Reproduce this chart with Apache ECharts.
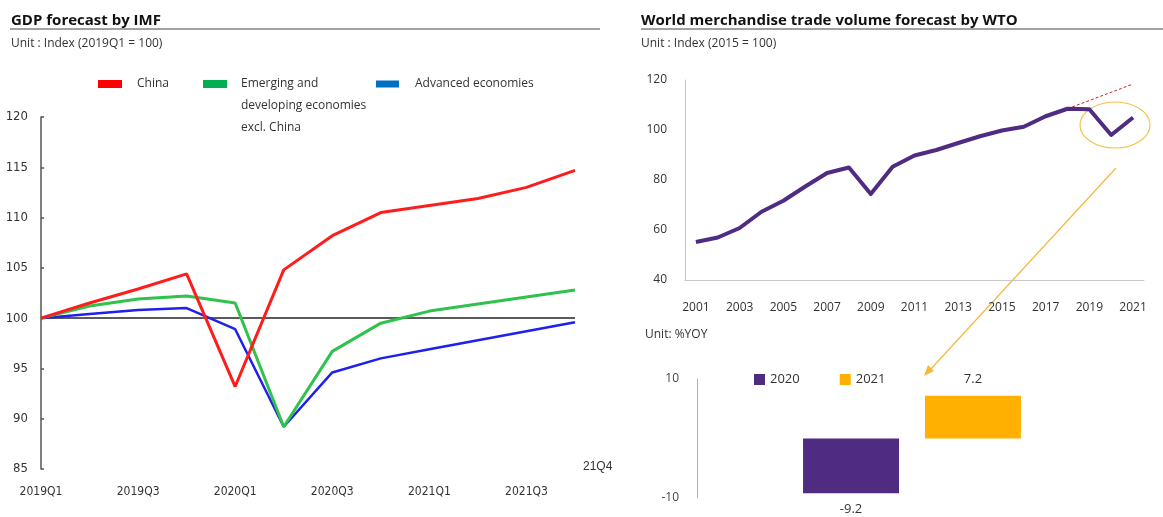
<!DOCTYPE html>
<html><head><meta charset="utf-8">
<script src="https://cdn.jsdelivr.net/npm/echarts@6/dist/echarts.min.js"></script>
<style>html,body{margin:0;padding:0;background:#fff}#c{width:1163px;height:517px}</style>
</head><body><div id="c"></div>
<script>
// ---- data ----
const quarters = ['2019Q1','2019Q2','2019Q3','2019Q4','2020Q1','2020Q2','2020Q3','2020Q4','2021Q1','2021Q2','2021Q3','2021Q4'];
const china    = [100, 101.5, 102.9, 104.4, 93.2, 104.8, 108.2, 110.5, 111.2, 111.9, 113.0, 114.7];
const emerging = [100, 101.2, 101.9, 102.2, 101.5, 89.2, 96.7, 99.5, 100.7, 101.4, 102.1, 102.8];
const advanced = [100, 100.4, 100.8, 101.0, 98.9, 89.2, 94.6, 96.0, 96.9, 97.8, 98.7, 99.6];
const gdpYTicks = [85, 120, 5];          // min, max, step
const lastQuarterLabel = '21Q4';
const emergingLines = ['Emerging and', 'developing economies', 'excl. China'];

const years = ['2001','2002','2003','2004','2005','2006','2007','2008','2009','2010','2011','2012','2013','2014','2015','2016','2017','2018','2019','2020','2021'];
const tradeVolume = [55.2, 57.0, 60.8, 67.3, 71.7, 77.4, 82.8, 85.0, 74.4, 85.3, 89.8, 92.0, 94.8, 97.5, 99.8, 101.3, 105.5, 108.5, 108.3, 98.0, 105.0];
const tradeTrend  = [null,null,null,null,null,null,null,null,null,null,null,null,null,null,null,null,null, 108.5, 111.8, 115.1, 118.4];
const tradeYTicks = [40, 120, 20];

const growthYears = ['2020', '2021'];
const growthYoY = [-9.2, 7.2];
const growthYTicks = [-10, 10, 20];

// ---- styles ----
const F = '"Open Sans", "Noto Sans", sans-serif';
const NARROW = '"Liberation Sans Narrow", "DejaVu Sans Condensed", sans-serif';
const PURPLE = '#4f2c82', ORANGE = '#ffb000';

const chart = echarts.init(document.getElementById('c'), null, {renderer: 'canvas'});
const emergingName = emergingLines.join(' ');

chart.setOption({
  animation: false,
  backgroundColor: '#fff',
  title: [
    {left: 11, top: 13, padding: 0, itemGap: 10, text: 'GDP forecast by IMF', subtext: 'Unit : Index (2019Q1 = 100)',
     textStyle: {fontSize: 15, fontWeight: 'bold', color: '#111', fontFamily: F},
     subtextStyle: {fontSize: 12, color: '#333', fontFamily: F}},
    {left: 641, top: 13, padding: 0, itemGap: 10, text: 'World merchandise trade volume forecast by WTO', subtext: 'Unit : Index (2015 = 100)',
     textStyle: {fontSize: 15, fontWeight: 'bold', color: '#111', fontFamily: F},
     subtextStyle: {fontSize: 12, color: '#333', fontFamily: F}},
    {left: 645, top: 329, padding: 0, text: 'Unit: %YOY',
     textStyle: {fontSize: 12, fontWeight: 'normal', color: '#333', fontFamily: F}}
  ],
  legend: [
    {left: 98, top: 78, padding: 0, selectedMode: false, icon: 'rect', itemWidth: 24, itemHeight: 8,
     data: [{name: 'China', itemStyle: {color: '#ff0000'}}],
     textStyle: {fontSize: 12, color: '#333', fontFamily: F, padding: [0, 0, 0, 10]}},
    {left: 203, top: 29, padding: 0, selectedMode: false, icon: 'rect', itemWidth: 24, itemHeight: 8,
     data: [{name: emergingName, itemStyle: {color: '#00b050'}}],
     formatter: () => '\n\n' + emergingLines.join('\n'),
     textStyle: {fontSize: 12, lineHeight: 22, color: '#333', fontFamily: F, padding: [0, 0, 0, 9]}},
    {left: 376, top: 78, padding: 0, selectedMode: false, icon: 'rect', itemWidth: 23, itemHeight: 7,
     data: [{name: 'Advanced economies', itemStyle: {color: '#0070c0'}}],
     textStyle: {fontSize: 12, color: '#333', fontFamily: F, padding: [0, 0, 0, 11]}},
    {left: 754, top: 373, padding: 0, selectedMode: false, icon: 'rect', itemWidth: 11, itemHeight: 11, itemGap: 40,
     data: growthYears,
     textStyle: {fontSize: 13, color: '#333', fontFamily: F}}
  ],
  grid: [
    {left: 41, top: 117, width: 534, height: 352},
    {left: 685, top: 80, width: 459, height: 200},
    {left: 697, top: 379, width: 430, height: 119}
  ],
  xAxis: [
    {gridIndex: 0, type: 'category', data: quarters, boundaryGap: false,
     axisLine: {show: false}, axisTick: {show: false},
     axisLabel: {interval: 1, margin: 17, fontSize: 12, color: '#333', fontFamily: NARROW}},
    {gridIndex: 1, type: 'category', data: years, boundaryGap: true,
     axisLine: {show: true, lineStyle: {color: '#c8c8c8', width: 1}}, axisTick: {show: false},
     axisLabel: {interval: 1, margin: 22, fontSize: 12, color: '#333', fontFamily: F}},
    {gridIndex: 2, type: 'category', data: [''], show: false}
  ],
  yAxis: [
    {gridIndex: 0, type: 'value', min: gdpYTicks[0], max: gdpYTicks[1], interval: gdpYTicks[2],
     axisLine: {show: true, lineStyle: {color: '#555', width: 1.5}},
     axisTick: {show: true, inside: true, length: 3, lineStyle: {color: '#555', width: 1.5}},
     splitLine: {show: false},
     axisLabel: {margin: 13, fontSize: 13, color: '#333', fontFamily: NARROW}},
    {gridIndex: 1, type: 'value', min: tradeYTicks[0], max: tradeYTicks[1], interval: tradeYTicks[2],
     axisLine: {show: true, lineStyle: {color: '#c8c8c8', width: 1}}, axisTick: {show: false},
     splitLine: {show: false},
     axisLabel: {margin: 18, fontSize: 12, color: '#333', fontFamily: F}},
    {gridIndex: 2, type: 'value', min: growthYTicks[0], max: growthYTicks[1], interval: growthYTicks[2],
     axisLine: {show: true, lineStyle: {color: '#b0b0b0', width: 1}}, axisTick: {show: false},
     splitLine: {show: false},
     axisLabel: {margin: 18, fontSize: 12, color: '#444', fontFamily: F}}
  ],
  series: [
    {name: 'China', type: 'line', xAxisIndex: 0, yAxisIndex: 0, data: china, symbol: 'none',
     lineStyle: {color: '#ff1c1c', width: 3}, itemStyle: {color: '#ff0000'}, z: 4,
     markLine: {silent: true, z: 1, symbol: ['none', 'none'], label: {show: false},
       lineStyle: {color: '#5a5a5a', width: 2, type: 'solid'}, emphasis: {disabled: true},
       data: [{yAxis: 100}]}},
    {name: emergingName, type: 'line', xAxisIndex: 0, yAxisIndex: 0, data: emerging, symbol: 'none',
     lineStyle: {color: '#2fc24c', width: 3}, itemStyle: {color: '#00b050'}, z: 3},
    {name: 'Advanced economies', type: 'line', xAxisIndex: 0, yAxisIndex: 0, data: advanced, symbol: 'none',
     lineStyle: {color: '#1f1fee', width: 2.5}, itemStyle: {color: '#0070c0'}, z: 2},
    {name: 'trend', type: 'line', xAxisIndex: 1, yAxisIndex: 1, data: tradeTrend, symbol: 'none',
     lineStyle: {color: '#c0262c', width: 1, type: [3, 2]}, z: 2},
    {name: 'trade', type: 'line', xAxisIndex: 1, yAxisIndex: 1, data: tradeVolume, symbol: 'none',
     lineStyle: {color: PURPLE, width: 4, join: 'round'}, z: 3},
    {name: growthYears[0], type: 'bar', xAxisIndex: 2, yAxisIndex: 2, data: [growthYoY[0]], barWidth: 96, barGap: '27%',
     itemStyle: {color: PURPLE},
     label: {show: true, position: 'outside', distance: 10, fontSize: 13, color: '#333', fontFamily: F}},
    {name: growthYears[1], type: 'bar', xAxisIndex: 2, yAxisIndex: 2, data: [growthYoY[1]], barWidth: 96, barGap: '27%',
     itemStyle: {color: ORANGE},
     label: {show: true, position: 'outside', distance: 10, fontSize: 13, color: '#333', fontFamily: F}}
  ],
  graphic: [
    {type: 'line', shape: {x1: 10, y1: 29, x2: 600, y2: 29}, style: {stroke: '#444', lineWidth: 1}, silent: true},
    {type: 'line', shape: {x1: 641, y1: 29, x2: 1163, y2: 29}, style: {stroke: '#444', lineWidth: 1}, silent: true},
    {type: 'text', x: 583, y: 461, style: {text: lastQuarterLabel, fontSize: 12, fill: '#333', font: '12px ' + NARROW}, silent: true},
    {type: 'ellipse', shape: {cx: 1115, cy: 125, rx: 35, ry: 23}, style: {fill: 'none', stroke: '#f3c44c', lineWidth: 1.2}, silent: true},
    {type: 'line', shape: {x1: 1116, y1: 168, x2: 929, y2: 371}, style: {stroke: '#f4b93a', lineWidth: 1.2}, silent: true},
    {type: 'polygon', shape: {points: [[924, 376], [934, 371], [928, 365]]}, style: {fill: '#f4b93a'}, silent: true}
  ]
});
</script></body></html>
